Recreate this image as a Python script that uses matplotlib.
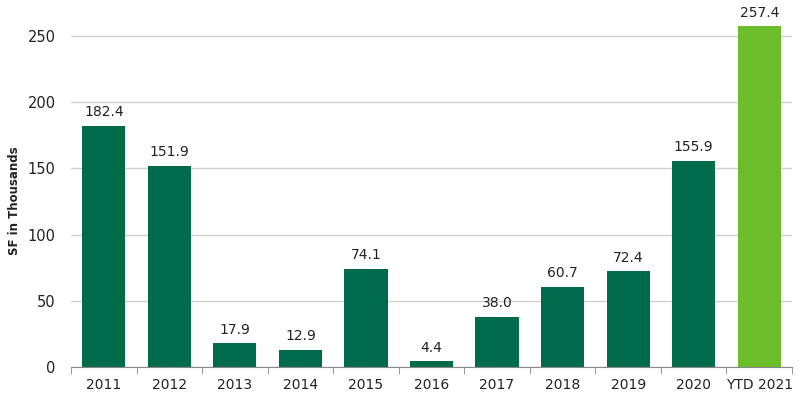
import matplotlib
matplotlib.use("Agg")
import matplotlib.pyplot as plt
import numpy as np

categories = ["2011", "2012", "2013", "2014", "2015", "2016", "2017", "2018", "2019", "2020", "YTD 2021"]
values = [182.4, 151.9, 17.9, 12.9, 74.1, 4.4, 38.0, 60.7, 72.4, 155.9, 257.4]
colors = ["#006B4B"] * 10 + ["#6BBD2C"]
yticks = [0, 50, 100, 150, 200, 250]

plt.rcParams['font.family'] = ['DejaVu Sans']
fig = plt.figure(figsize=(8, 3.95), dpi=100)
ax = fig.add_axes([71/800, 28/395, 721/800, 367/395])

x = np.arange(len(categories))
ax.bar(x, values, width=0.66, color=colors, zorder=3)
for xi, v in zip(x, values):
    ax.text(xi, v + 5, f"{v:.1f}", ha="center", va="bottom", fontsize=10, color="#222222")

ax.set_xlim(-0.5, len(categories) - 0.5)
ax.set_ylim(0, 277.2)
ax.set_yticks(yticks)
ax.set_xticks(x)
ax.set_xticklabels(categories)
ax.set_xticks(np.arange(-0.5, len(categories), 1.0), minor=True)
ax.tick_params(axis="x", which="major", length=0, pad=8, labelsize=10, colors="#222222")
ax.tick_params(axis="x", which="minor", length=5, direction="out", color="#888888")
ax.tick_params(axis="y", length=0, pad=11, labelsize=10.5, colors="#222222")
ax.yaxis.grid(True, color="#d0d0d0", linewidth=1, zorder=0)
for s in ["top", "right", "left"]:
    ax.spines[s].set_visible(False)
ax.spines["bottom"].set_color("#888888")
ax.spines["bottom"].set_zorder(4)
fig.text(15/800, (395-201)/395, "SF in Thousands", rotation=90, ha="center", va="center",
         fontsize=8.5, fontweight="bold", color="#222222")

fig.savefig("out.png", dpi=100)
